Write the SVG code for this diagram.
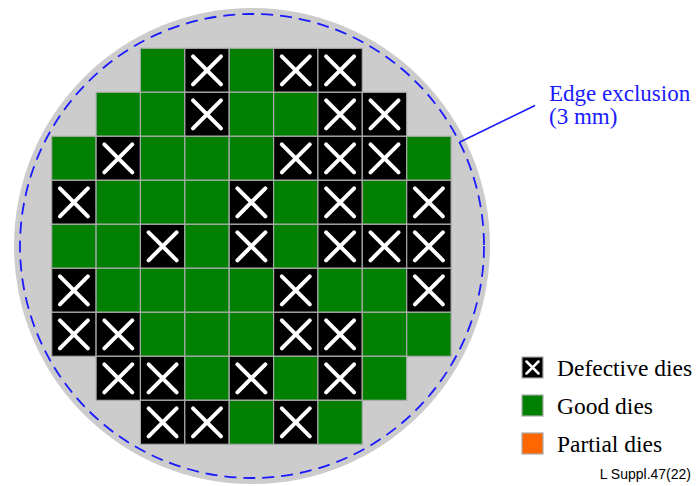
<svg xmlns="http://www.w3.org/2000/svg" xmlns:xlink="http://www.w3.org/1999/xlink" width="697" height="486" viewBox="0 0 697 486">
<style>
.serif{font-family:"Liberation Serif","Times New Roman",serif;}
.lbl{font-size:23px;fill:#1a1aff;}
.leg{font-size:23.5px;fill:#000;}
.ref{font-family:"Liberation Sans",Arial,sans-serif;font-size:14px;fill:#000;}
.cellb{stroke:#aaaaaa;stroke-width:1.2;}
</style>
<defs>
<g id="good"><rect width="44.4" height="44" fill="#008000" class="cellb"/></g>
<g id="bad"><rect width="44.4" height="44" fill="#000" class="cellb"/><path d="M8.2,8 L36.2,36 M36.2,8 L8.2,36" stroke="#fff" stroke-width="4" stroke-linecap="round" fill="none"/></g>
</defs>
<rect width="697" height="486" fill="#fff"/>
<g id="wafer">
<circle cx="252" cy="246" r="238" fill="#cccccc"/>
<circle id="edge-exclusion" cx="252" cy="246" r="232" fill="none" stroke="#1a1aff" stroke-width="1.8" stroke-dasharray="12 7"/>
</g>
<g id="dies">
<use id="d0-2" href="#good" x="140.4" y="48.3"/>
<use id="d0-3" href="#bad" x="184.8" y="48.3"/>
<use id="d0-4" href="#good" x="229.2" y="48.3"/>
<use id="d0-5" href="#bad" x="273.6" y="48.3"/>
<use id="d0-6" href="#bad" x="317.9" y="48.3"/>

<use id="d1-1" href="#good" x="96.1" y="92.3"/>
<use id="d1-2" href="#good" x="140.4" y="92.3"/>
<use id="d1-3" href="#bad" x="184.8" y="92.3"/>
<use id="d1-4" href="#good" x="229.2" y="92.3"/>
<use id="d1-5" href="#good" x="273.6" y="92.3"/>
<use id="d1-6" href="#bad" x="317.9" y="92.3"/>
<use id="d1-7" href="#bad" x="362.3" y="92.3"/>

<use id="d2-0" href="#good" x="51.7" y="136.3"/>
<use id="d2-1" href="#bad" x="96.1" y="136.3"/>
<use id="d2-2" href="#good" x="140.4" y="136.3"/>
<use id="d2-3" href="#good" x="184.8" y="136.3"/>
<use id="d2-4" href="#good" x="229.2" y="136.3"/>
<use id="d2-5" href="#bad" x="273.6" y="136.3"/>
<use id="d2-6" href="#bad" x="317.9" y="136.3"/>
<use id="d2-7" href="#bad" x="362.3" y="136.3"/>
<use id="d2-8" href="#good" x="406.7" y="136.3"/>

<use id="d3-0" href="#bad" x="51.7" y="180.3"/>
<use id="d3-1" href="#good" x="96.1" y="180.3"/>
<use id="d3-2" href="#good" x="140.4" y="180.3"/>
<use id="d3-3" href="#good" x="184.8" y="180.3"/>
<use id="d3-4" href="#bad" x="229.2" y="180.3"/>
<use id="d3-5" href="#good" x="273.6" y="180.3"/>
<use id="d3-6" href="#bad" x="317.9" y="180.3"/>
<use id="d3-7" href="#good" x="362.3" y="180.3"/>
<use id="d3-8" href="#bad" x="406.7" y="180.3"/>

<use id="d4-0" href="#good" x="51.7" y="224.3"/>
<use id="d4-1" href="#good" x="96.1" y="224.3"/>
<use id="d4-2" href="#bad" x="140.4" y="224.3"/>
<use id="d4-3" href="#good" x="184.8" y="224.3"/>
<use id="d4-4" href="#bad" x="229.2" y="224.3"/>
<use id="d4-5" href="#good" x="273.6" y="224.3"/>
<use id="d4-6" href="#bad" x="317.9" y="224.3"/>
<use id="d4-7" href="#bad" x="362.3" y="224.3"/>
<use id="d4-8" href="#bad" x="406.7" y="224.3"/>

<use id="d5-0" href="#bad" x="51.7" y="268.3"/>
<use id="d5-1" href="#good" x="96.1" y="268.3"/>
<use id="d5-2" href="#good" x="140.4" y="268.3"/>
<use id="d5-3" href="#good" x="184.8" y="268.3"/>
<use id="d5-4" href="#good" x="229.2" y="268.3"/>
<use id="d5-5" href="#bad" x="273.6" y="268.3"/>
<use id="d5-6" href="#good" x="317.9" y="268.3"/>
<use id="d5-7" href="#good" x="362.3" y="268.3"/>
<use id="d5-8" href="#bad" x="406.7" y="268.3"/>

<use id="d6-0" href="#bad" x="51.7" y="312.3"/>
<use id="d6-1" href="#bad" x="96.1" y="312.3"/>
<use id="d6-2" href="#good" x="140.4" y="312.3"/>
<use id="d6-3" href="#good" x="184.8" y="312.3"/>
<use id="d6-4" href="#good" x="229.2" y="312.3"/>
<use id="d6-5" href="#bad" x="273.6" y="312.3"/>
<use id="d6-6" href="#bad" x="317.9" y="312.3"/>
<use id="d6-7" href="#good" x="362.3" y="312.3"/>
<use id="d6-8" href="#good" x="406.7" y="312.3"/>

<use id="d7-1" href="#bad" x="96.1" y="356.3"/>
<use id="d7-2" href="#bad" x="140.4" y="356.3"/>
<use id="d7-3" href="#good" x="184.8" y="356.3"/>
<use id="d7-4" href="#bad" x="229.2" y="356.3"/>
<use id="d7-5" href="#good" x="273.6" y="356.3"/>
<use id="d7-6" href="#bad" x="317.9" y="356.3"/>
<use id="d7-7" href="#good" x="362.3" y="356.3"/>

<use id="d8-2" href="#bad" x="140.4" y="400.3"/>
<use id="d8-3" href="#bad" x="184.8" y="400.3"/>
<use id="d8-4" href="#good" x="229.2" y="400.3"/>
<use id="d8-5" href="#bad" x="273.6" y="400.3"/>
<use id="d8-6" href="#good" x="317.9" y="400.3"/>
</g>
<g id="connectors">
<line x1="460" y1="142" x2="535" y2="105.5" stroke="#1a1aff" stroke-width="1.6"/>
</g>
<g id="label-edge">
<text class="serif lbl" x="549" y="101">Edge exclusion</text>
<text class="serif lbl" x="549" y="124">(3 mm)</text>
</g>
<g id="legend">
<g id="legend-defective">
<rect x="522" y="357" width="21" height="21" fill="#000" class="cellb"/>
<path d="M526.5,361.5 L538.5,373.5 M538.5,361.5 L526.5,373.5" stroke="#fff" stroke-width="2.5" stroke-linecap="round"/>
<text class="serif leg" x="557" y="376">Defective dies</text>
</g>
<g id="legend-good">
<rect x="522" y="395" width="21" height="21" fill="#008000" class="cellb"/>
<text class="serif leg" x="557" y="414">Good dies</text>
</g>
<g id="legend-partial">
<rect x="522" y="433" width="21" height="21" fill="#ff6600" class="cellb"/>
<text class="serif leg" x="557" y="452">Partial dies</text>
</g>
</g>
<text class="ref" x="691" y="479" text-anchor="end">L Suppl.47(22)</text>
</svg>
